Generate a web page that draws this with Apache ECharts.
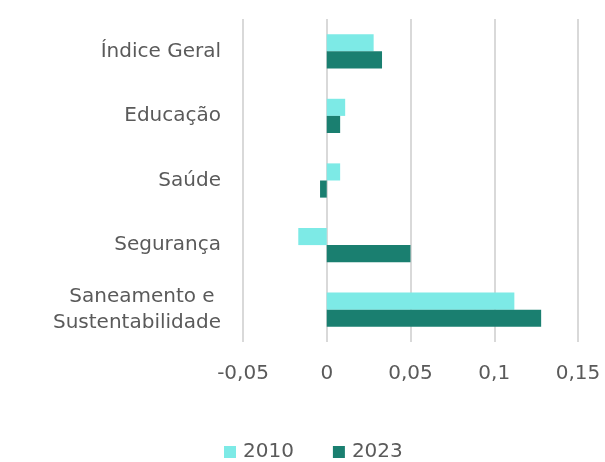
<!DOCTYPE html>
<html>
<head>
<meta charset="utf-8">
<script src="https://cdn.jsdelivr.net/npm/echarts@6/dist/echarts.min.js"></script>
<style>
    html, body { margin: 0; padding: 0; background: #fff; }
    #chart { width: 605px; height: 462px; }
</style>
</head>
<body>
<div id="chart"></div>
<script>
var categories = ['Índice Geral', 'Educação', 'Saúde', 'Segurança', 'Saneamento e \nSustentabilidade'];
var values2010 = [0.028, 0.011, 0.008, -0.017, 0.112];
var values2023 = [0.033, 0.008, -0.004, 0.050, 0.128];
var seriesNames = ['2010', '2023'];

var fontName = 'DejaVu Sans';
var textColor = '#5a5a5a';

getechart('chart', {
    animation: false,
    legend: {
        top: 437,
        left: 219,
        itemWidth: 12,
        itemHeight: 12,
        itemGap: 39,
        icon: 'rect',
        textStyle: {
            fontSize: 20,
            color: textColor,
            fontFamily: fontName,
            padding: [0, 0, 0, 2]
        },
        data: seriesNames
    },
    grid: {
        left: 243,
        right: 27,
        top: 19,
        bottom: 120
    },
    xAxis: {
        type: 'value',
        min: -0.05,
        max: 0.15,
        interval: 0.05,
        axisLine: { show: false },
        axisTick: { show: false },
        axisLabel: {
            margin: 22,
            fontSize: 20,
            color: textColor,
            fontFamily: fontName,
            formatter: function (v) {
                return String(Math.round(v * 100) / 100).replace('.', ',');
            }
        },
        splitLine: {
            lineStyle: { color: '#d9d9d9', width: 2 }
        }
    },
    yAxis: {
        type: 'category',
        inverse: true,
        data: categories,
        axisLine: { show: false },
        axisTick: { show: false },
        axisLabel: {
            margin: 22,
            fontSize: 20,
            lineHeight: 26,
            color: textColor,
            fontFamily: fontName,
            align: 'right'
        }
    },
    series: [
        {
            name: seriesNames[0],
            type: 'bar',
            data: values2010,
            barGap: '0%',
            barCategoryGap: '47%',
            itemStyle: { color: '#7deae6' }
        },
        {
            name: seriesNames[1],
            type: 'bar',
            data: values2023,
            barGap: '0%',
            barCategoryGap: '47%',
            itemStyle: { color: '#1a7f70' }
        }
    ]
});

function getechart(idName, idOption) {
    var id = echarts.init(document.getElementById(idName));
    id.setOption(idOption);
    window.addEventListener('resize', function () {
        id.resize();
    });
}
</script>
</body>
</html>
